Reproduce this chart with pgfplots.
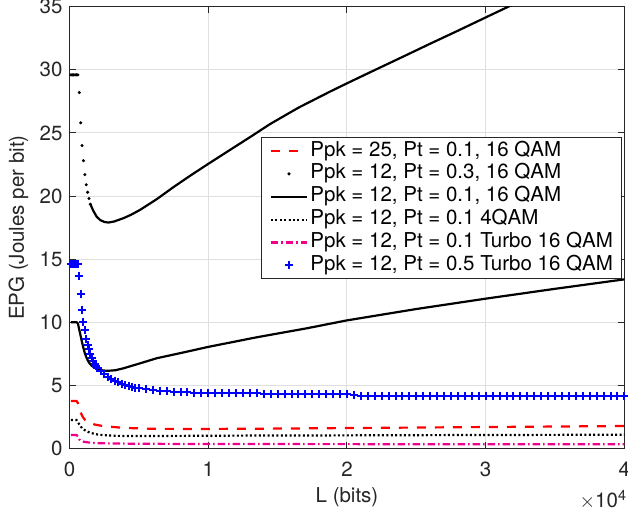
\documentclass[border=0pt]{standalone}
\usepackage{fontspec}
\setmainfont{TeX Gyre Heros}
\usepackage{pgfplots}
\pgfplotsset{compat=1.18}
\usepackage{pgfplotstable}

\definecolor{axgray}{RGB}{38,38,38}
\definecolor{gridgray}{RGB}{223,223,223}

\pgfplotsset{
  markleg/.style={legend image code/.code={\path[draw=none] (-1.5pt,0pt) -- (18pt,0pt);
    \draw[##1] plot[only marks] coordinates {(9pt,0pt)};}},
}

% Ppk = 25, Pt = 0.1, 16 QAM
\pgfplotstableread{
x y
100 3.76
200 3.76
300 3.76
400 3.76
500 3.76
600 3.6
700 3.2
800 2.85
900 2.6
1000 2.42
1200 2.15
1400 2.02
1600 1.95
1900 1.88
2300 1.8
2900 1.73
3500 1.67
4500 1.61
6000 1.56
8000 1.55
10000 1.55
14000 1.57
20000 1.62
25000 1.66
30000 1.70
35000 1.74
40000 1.78
}\redtab

% Ppk = 12, Pt = 0.3, 16 QAM (single points at small L)
\pgfplotstableread{
x y
100 29.6
200 29.6
300 29.6
400 29.6
500 29.6
600 29.6
700 28.2
800 25.8
900 24.0
1000 22.8
1100 21.7
1200 20.9
1300 20.3
1400 19.8
1500 19.35
}\dotstab

% same series, where the points run together
\pgfplotstableread{
x y
1500 19.35
1700 18.85
1950 18.37
2200 18.1
2500 17.95
2800 17.9
3200 17.98
3870 18.24
4400 18.5
5075 18.9
5600 19.27
6280 19.75
7480 20.7
8680 21.6
10000 22.55
11560 23.65
13000 24.66
14450 25.7
16500 27.0
18770 28.27
20000 28.93
22000 29.98
24000 31.02
26000 32.07
28000 33.1
30000 34.15
31630 35.0
33000 35.7
}\dotsline

% Ppk = 12, Pt = 0.1, 16 QAM
\pgfplotstableread{
x y
100 10.0
200 10.0
300 10.0
400 10.0
500 10.0
600 9.9
700 9.4
800 8.9
900 8.4
1000 7.95
1100 7.55
1200 7.25
1300 7.0
1400 6.8
1600 6.55
1800 6.4
2000 6.3
2300 6.2
2700 6.15
3300 6.2
3870 6.35
5000 6.72
6280 7.15
8000 7.56
10000 8.05
13490 8.81
17090 9.52
20000 10.15
25000 11.05
30000 11.87
35000 12.65
40000 13.4
}\solidtab

% Ppk = 12, Pt = 0.1, 4QAM
\pgfplotstableread{
x y
100 2.25
200 2.25
300 2.25
400 2.25
500 2.25
600 2.1
700 1.9
800 1.74
900 1.62
1000 1.52
1200 1.38
1500 1.24
2000 1.11
2500 1.05
3500 1.0
5000 0.99
8000 1.0
12000 1.02
20000 1.04
30000 1.07
40000 1.09
}\qamtab

% Ppk = 12, Pt = 0.1, Turbo 16 QAM
\pgfplotstableread{
x y
100 1.07
200 1.07
300 1.07
400 1.07
500 1.07
600 0.95
700 0.72
800 0.62
900 0.57
1000 0.54
1200 0.5
1500 0.46
2000 0.42
3000 0.4
4500 0.38
8000 0.36
15000 0.35
25000 0.34
40000 0.33
}\turbotab

% Ppk = 12, Pt = 0.5, Turbo 16 QAM
\pgfplotstableread{
x y
100 14.62
200 14.62
300 14.62
400 14.62
500 14.62
600 14.62
700 13.67
800 12.2
900 10.95
1000 10.05
1100 9.35
1200 8.7
1300 8.2
1400 7.85
1500 7.5
1600 7.2
1700 6.95
1800 6.72
1900 6.52
2000 6.35
2250 6.1
2500 5.88
2750 5.68
3000 5.52
3250 5.38
3500 5.25
3750 5.14
4000 5.04
4250 4.96
4500 4.89
4750 4.83
5000 4.78
5500 4.71
6000 4.64
6500 4.58
7000 4.53
7500 4.50
8000 4.47
8500 4.45
9000 4.43
9500 4.42
10000 4.41
10500 4.40
11000 4.39
11500 4.39
12000 4.38
12500 4.37
13000 4.36
13500 4.36
14000 4.35
14500 4.34
15000 4.33
15500 4.33
16000 4.32
16500 4.31
17000 4.31
17500 4.30
18000 4.30
18500 4.29
19000 4.29
19500 4.28
20000 4.28
20500 4.27
21000 4.19
21500 4.19
22000 4.19
22500 4.19
23000 4.19
23500 4.19
24000 4.18
24500 4.18
25000 4.18
25500 4.18
26000 4.18
26500 4.18
27000 4.18
27500 4.18
28000 4.18
28500 4.18
29000 4.18
29500 4.18
30000 4.18
30500 4.17
31000 4.17
31500 4.17
32000 4.17
32500 4.17
33000 4.17
33500 4.17
34000 4.17
34500 4.17
35000 4.17
35500 4.17
36000 4.17
36500 4.17
37000 4.17
37500 4.17
38000 4.17
38500 4.17
39000 4.17
39500 4.17
40000 4.17
}\bluetab

\begin{document}
\begin{tikzpicture}[font=\fontsize{10.25}{12}\selectfont]
\begin{axis}[
  scale only axis,
  width=277.4pt, height=220.9pt,
  xmin=0, xmax=40000, ymin=0, ymax=35,
  clip mode=individual,
  xtick={0,10000,20000,30000,40000},
  xticklabels={0,1,2,3,4},
  ytick={0,5,10,15,20,25,30,35},
  yticklabels={0,5,10,15,20,25,30,35},
  scaled x ticks=false,
  tick label style={text=axgray},
  xticklabel style={yshift=-3pt},
  axis line style={axgray, line width=0.5pt},
  tick style={axgray, line width=0.5pt},
  major tick length=3pt,
  tick align=inside,
  grid=major,
  major grid style={gridgray, line width=0.5pt},
  xlabel={L (bits)},
  ylabel={EPG (Joules per bit)},
  every axis x label/.style={at={(rel axis cs:0.5,0)}, anchor=base, yshift=-27.2pt, text=axgray},
  every axis y label/.style={at={(rel axis cs:0,0.5)}, xshift=-22.8pt, rotate=90, anchor=base, text=axgray},
  legend image code/.code={\path[draw=none] (-1.5pt,0pt) -- (18pt,0pt);
    \draw[mark repeat=2,mark phase=2,#1] plot coordinates {(0pt,0pt) (9pt,0pt) (18pt,0pt)};},
  legend style={at={(rel axis cs:1,1)}, anchor=north east, xshift=-1.3pt, yshift=-65.15pt,
    draw=axgray, line width=0.5pt, fill=white, inner xsep=3pt, inner ysep=1pt,
    font=\fontsize{10.25}{12}\selectfont,
    nodes={inner xsep=1.2pt, inner ysep=0.65pt, text height=7.6pt, text depth=2.55pt}},
  legend cell align=left,
]
\addplot[red, line width=1.1pt, dash pattern=on 4.5pt off 4.5pt] table {\redtab};
\addlegendentry{Ppk = 25, Pt = 0.1, 16 QAM}
\addplot[black, only marks, mark=*, mark size=0.55pt, markleg] table {\dotstab};
\addlegendentry{Ppk = 12, Pt = 0.3, 16 QAM}
\addplot[black, line width=1.1pt, forget plot] table {\dotsline};
\addplot[black, line width=1.1pt] table {\solidtab};
\addlegendentry{Ppk = 12, Pt = 0.1, 16 QAM}
\addplot[black, line width=1.1pt, dash pattern=on 1pt off 1.2pt] table {\qamtab};
\addlegendentry{Ppk = 12, Pt = 0.1 4QAM}
\addplot[magenta, line width=1.1pt, dash pattern=on 3.7pt off 1.5pt on 0.8pt off 1.5pt] table {\turbotab};
\addlegendentry{Ppk = 12, Pt = 0.1 Turbo 16 QAM}
\addplot[blue, only marks, mark=+, mark size=2pt, mark options={line width=1pt}, markleg] table {\bluetab};
\addlegendentry{Ppk = 12, Pt = 0.5 Turbo 16 QAM}
\node[anchor=north east, inner sep=0pt, text=axgray, xshift=1.5pt, yshift=-20.5pt]
  at (rel axis cs:1,0) {\ensuremath{\times}10\textsuperscript{4}};
\end{axis}
\pgfresetboundingbox
\path[use as bounding box] (-34.8pt,-32.75pt) rectangle (279.2pt,224.25pt);
\end{tikzpicture}
\end{document}
